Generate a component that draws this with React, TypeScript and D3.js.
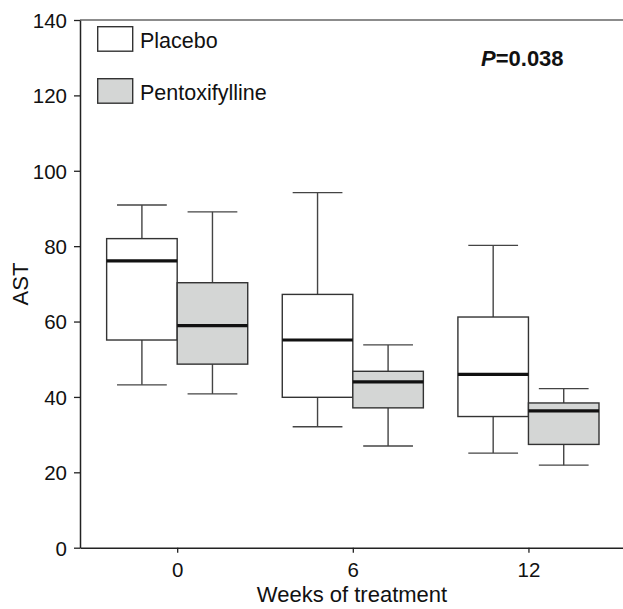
import React, { useEffect, useRef } from 'react';
import { axisBottom, axisLeft, scaleLinear, select } from 'd3';

const weeks = [0, 6, 12];
const groups = ['Placebo', 'Pentoxifylline'];
const yTicks = [0, 20, 40, 60, 80, 100, 120, 140];

// [min, q1, median, q3, max] per week
const placeboStats = [
  [43.2, 55.1, 76.1, 82.0, 90.9],
  [32.1, 39.9, 55.1, 67.2, 94.2],
  [25.1, 34.8, 46.0, 61.2, 80.2],
];
const pentoStats = [
  [40.8, 48.7, 58.9, 70.3, 89.1],
  [27.0, 37.1, 44.0, 46.8, 53.8],
  [21.9, 27.4, 36.3, 38.4, 42.2],
];

const W = 623;
const H = 609;
const font = '"Liberation Sans", Arial, Helvetica, sans-serif';
const fills = ['#ffffff', '#d4d6d5'];

const App = () => {
  const ref = useRef<SVGSVGElement>(null);

  useEffect(() => {
    const svg = select(ref.current);
    svg.selectAll('*').remove();

    const x = scaleLinear().domain([-3.32, 15.23]).range([80, 623]);
    const y = scaleLinear().domain([0, 140]).range([547.7, 20]);
    const boxW = x(2.41) - x(0);
    const capW = x(1.7) - x(0);

    // top frame line
    svg.append('line')
      .attr('x1', 80).attr('x2', W)
      .attr('y1', y(140)).attr('y2', y(140))
      .attr('stroke', '#666').attr('stroke-width', 1.6);

    const yAxis = svg.append('g')
      .attr('transform', 'translate(80,0)')
      .call(axisLeft(y).tickValues(yTicks).tickSize(6).tickSizeOuter(0));
    yAxis.select('.domain').attr('stroke', '#222').attr('stroke-width', 1.5);
    yAxis.selectAll('.tick line').attr('stroke', '#222').attr('stroke-width', 1.3);
    yAxis.selectAll('.tick text')
      .attr('x', -13).attr('dy', '0.36em')
      .style('font-family', font).style('font-size', '20.5px').attr('fill', '#111');

    const xAxis = svg.append('g')
      .attr('transform', `translate(0,${y(0)})`)
      .call(axisBottom(x).tickValues(weeks).tickSize(5).tickSizeOuter(0));
    xAxis.select('.domain').attr('stroke', '#222').attr('stroke-width', 1.5);
    xAxis.selectAll('.tick line').attr('stroke', '#222').attr('stroke-width', 1.3);
    xAxis.selectAll('.tick text')
      .attr('y', 29).attr('dy', 0)
      .style('font-family', font).style('font-size', '20.5px').attr('fill', '#111');

    const drawBox = (stats: number[][], side: number, fill: string) => {
      stats.forEach(([mn, q1, med, q3, mx], i) => {
        const left = side === 0 ? x(weeks[i]) - boxW : x(weeks[i]);
        const cx = left + boxW / 2;
        const g = svg.append('g');
        g.append('line')
          .attr('x1', cx).attr('x2', cx).attr('y1', y(mx)).attr('y2', y(q3))
          .attr('stroke', '#444').attr('stroke-width', 1.4);
        g.append('line')
          .attr('x1', cx).attr('x2', cx).attr('y1', y(q1)).attr('y2', y(mn))
          .attr('stroke', '#444').attr('stroke-width', 1.4);
        [mx, mn].forEach((v) => {
          g.append('line')
            .attr('x1', cx - capW / 2).attr('x2', cx + capW / 2)
            .attr('y1', y(v)).attr('y2', y(v))
            .attr('stroke', '#444').attr('stroke-width', 1.4);
        });
        g.append('rect')
          .attr('x', left).attr('y', y(q3))
          .attr('width', boxW).attr('height', y(q1) - y(q3))
          .attr('fill', fill).attr('stroke', '#333').attr('stroke-width', 1.4);
        g.append('line')
          .attr('x1', left).attr('x2', left + boxW)
          .attr('y1', y(med)).attr('y2', y(med))
          .attr('stroke', '#111').attr('stroke-width', 3.2);
      });
    };
    drawBox(placeboStats, 0, fills[0]);
    drawBox(pentoStats, 1, fills[1]);

    // legend
    groups.forEach((name, i) => {
      const top = 26.7 + i * 52;
      svg.append('rect')
        .attr('x', 97.7).attr('y', top).attr('width', 35).attr('height', 24.5)
        .attr('fill', fills[i]).attr('stroke', '#333').attr('stroke-width', 1.4);
      svg.append('text')
        .attr('x', 140).attr('y', top + 21.5)
        .style('font-family', font).style('font-size', '21.5px').attr('fill', '#111')
        .text(name);
    });

    const p = svg.append('text')
      .attr('x', 481).attr('y', 65.7)
      .style('font-family', font).style('font-size', '22px')
      .style('font-weight', 'bold').attr('fill', '#111');
    p.append('tspan').style('font-style', 'italic').text('P');
    p.append('tspan').text('=0.038');

    svg.append('text')
      .attr('transform', 'translate(28,284) rotate(-90)')
      .attr('text-anchor', 'middle')
      .style('font-family', font).style('font-size', '22px').attr('fill', '#111')
      .text('AST');

    svg.append('text')
      .attr('x', 352).attr('y', 602)
      .attr('text-anchor', 'middle')
      .style('font-family', font).style('font-size', '22px').attr('fill', '#111')
      .text('Weeks of treatment');
  }, []);

  return (
    <svg
      ref={ref}
      width={W}
      height={H}
      style={{ position: 'absolute', left: 0, top: 0, background: '#fff' }}
    />
  );
};

export default App;
